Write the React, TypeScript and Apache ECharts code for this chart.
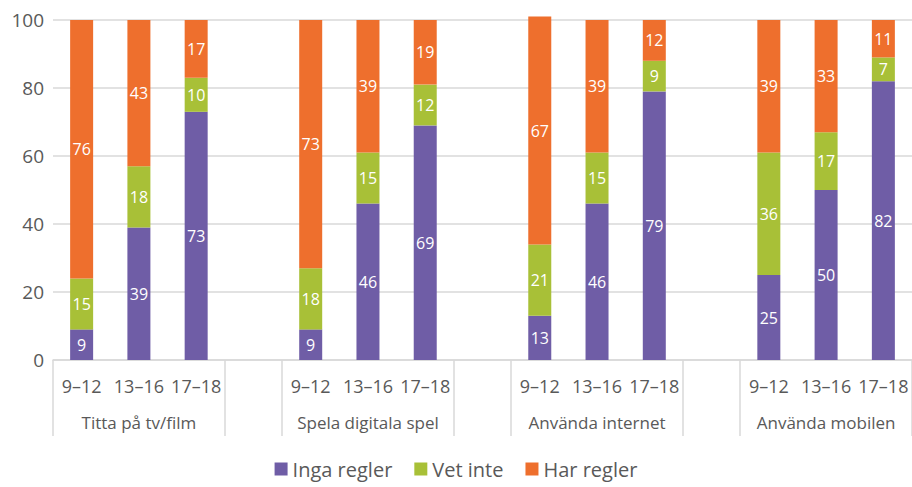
import React, { useEffect, useRef } from "react";
import * as echarts from "echarts";

const ageLabels = ["9–12", "13–16", "17–18", "", "9–12", "13–16", "17–18", "", "9–12", "13–16", "17–18", "", "9–12", "13–16", "17–18"];
const groupLabels = ["", "Titta på tv/film", "", "", "", "Spela digitala spel", "", "", "", "Använda internet", "", "", "", "Använda mobilen", ""];
const seriesNames = ["Inga regler", "Vet inte", "Har regler"];
const ingaRegler = [9, 39, 73, null, 9, 46, 69, null, 13, 46, 79, null, 25, 50, 82];
const vetInte = [15, 18, 10, null, 18, 15, 12, null, 21, 15, 9, null, 36, 17, 7];
const harRegler = [76, 43, 17, null, 73, 39, 19, null, 67, 39, 12, null, 39, 33, 11];
const yTicks = { min: 0, max: 100, interval: 20 };
const colors = ["#6F5DA6", "#A8C037", "#EE6F2D"];
const separatorIdx = [0, 3, 4, 7, 8, 11, 12, 15];

export default function App() {
  const ref = useRef<HTMLDivElement>(null);
  useEffect(() => {
    document.body.style.margin = "0";
    const chart = echarts.init(ref.current!, null, { renderer: "svg" });
    const font = "'Open Sans', sans-serif";
    const data = [ingaRegler, vetInte, harRegler];
    chart.setOption({
      animation: false,
      textStyle: { fontFamily: font },
      grid: { left: 53, right: 0, top: 20, bottom: 127 },
      legend: {
        top: 459,
        left: "center",
        padding: 0,
        itemWidth: 13,
        itemHeight: 13,
        itemGap: 22,
        icon: "rect",
        textStyle: { fontSize: 20, color: "#595959", fontFamily: font },
        data: seriesNames,
      },
      xAxis: [
        {
          type: "category",
          data: ageLabels,
          position: "bottom",
          axisLine: { lineStyle: { color: "#D9D9D9", width: 1.5 } },
          axisTick: {
            show: true,
            length: 76,
            lineStyle: { color: "#D9D9D9", width: 1.5 },
            interval: (i: number) => separatorIdx.includes(i),
          },
          axisLabel: { interval: 0, fontSize: 18, color: "#595959", margin: 17, fontFamily: font },
        },
        {
          type: "category",
          data: groupLabels,
          position: "bottom",
          axisLine: { show: false },
          axisTick: { show: false },
          axisLabel: { interval: 0, fontSize: 17, color: "#595959", margin: 54, fontFamily: font },
        },
      ],
      yAxis: {
        type: "value",
        ...yTicks,
        axisLine: { show: false },
        axisTick: { show: false },
        splitLine: { lineStyle: { color: "#D9D9D9", width: 1.5 } },
        axisLabel: { fontSize: 19, color: "#595959", margin: 9, fontFamily: font },
      },
      series: seriesNames.map((name, k) => ({
        name,
        type: "bar",
        stack: "total",
        xAxisIndex: 0,
        barWidth: 23,
        clip: false,
        itemStyle: { color: colors[k] },
        label: { show: true, position: "inside", color: "#FFFFFF", fontSize: 16, fontFamily: font },
        data: data[k],
      })),
    });
    return () => chart.dispose();
  }, []);
  return <div ref={ref} style={{ width: 912, height: 487 }} />;
}
